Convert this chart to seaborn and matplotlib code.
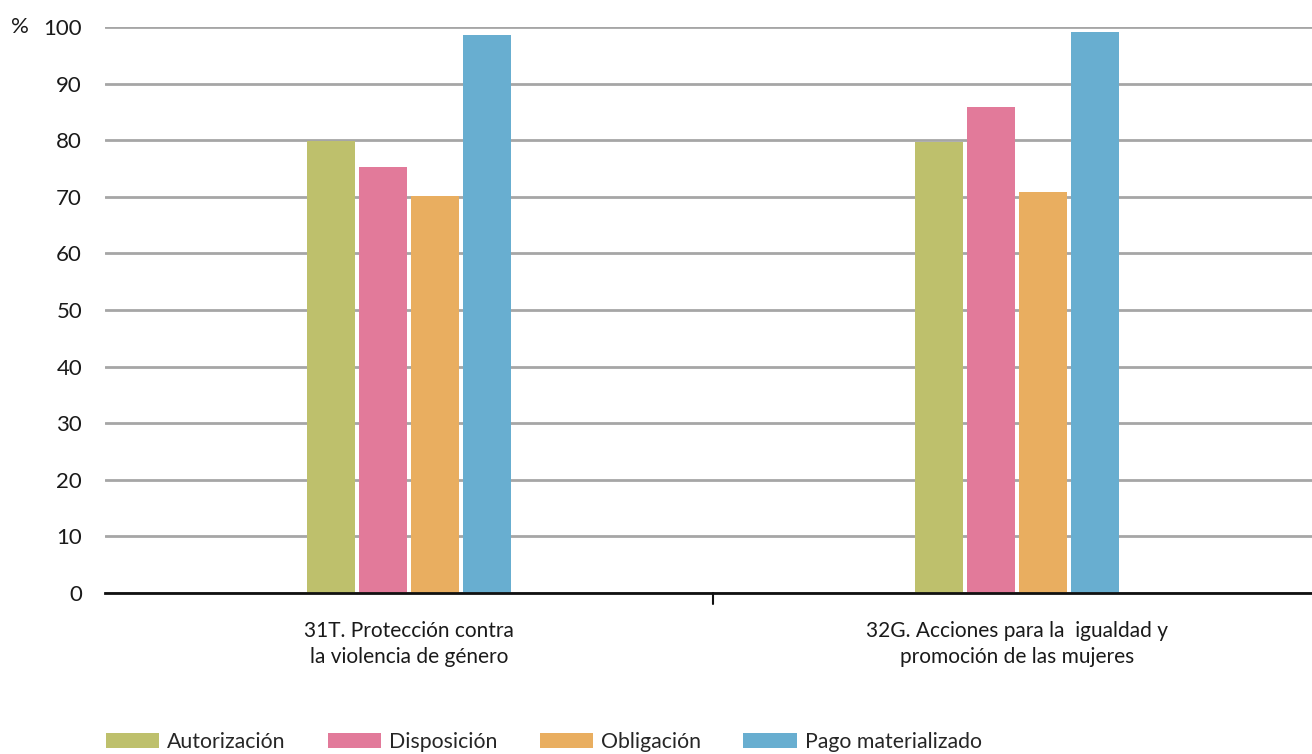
import matplotlib
matplotlib.use("Agg")
import matplotlib.pyplot as plt
import seaborn as sns
import pandas as pd

categories = ["31T. Protección contra\nla violencia de género",
              "32G. Acciones para la  igualdad y\npromoción de las mujeres"]
series = ["Autorización", "Disposición", "Obligación", "Pago materializado"]
autorizacion = [79.9, 79.7]
disposicion = [75.3, 85.9]
obligacion = [70.2, 70.8]
pago = [98.6, 99.1]
colors = ["#BEC06C", "#E27A9A", "#E9AE60", "#68AED0"]
yticks = [0, 10, 20, 30, 40, 50, 60, 70, 80, 90, 100]

sns.set_theme(style="white")
plt.rcParams["font.family"] = ["Lato", "DejaVu Sans"]

rows = []
for s, vals in zip(series, [autorizacion, disposicion, obligacion, pago]):
    for c, v in zip(categories, vals):
        rows.append({"cat": c, "serie": s, "val": v})
df = pd.DataFrame(rows)

fig = plt.figure(figsize=(13.12, 7.54), dpi=100)
ax = fig.add_axes([105/1312, 1-593/754, (1321-105)/1312, (593-27)/754])

sns.barplot(data=df, x="cat", y="val", hue="serie", order=categories,
            hue_order=series, palette=colors, width=0.342, gap=0.08,
            saturation=1, ax=ax, zorder=3, edgecolor="none", linewidth=0)

ax.set_xlim(-0.5, 1.5)
ax.set_ylim(0, 100)
ax.set_yticks(yticks)
ax.set_yticklabels([str(t) for t in yticks], fontsize=16, color="#1a1a1a")
ax.yaxis.grid(True, color="#a6a6a6", linewidth=2, zorder=0)
ax.set_axisbelow(True)
for sp in ["top", "right", "left"]:
    ax.spines[sp].set_visible(False)
ax.spines["bottom"].set_color("#111111")
ax.spines["bottom"].set_linewidth(2)
ax.spines["bottom"].set_zorder(4)
ax.tick_params(axis="y", length=0, pad=16.5)
ax.set_xticks([0, 1])
ax.set_xticklabels(categories, fontsize=15, color="#1a1a1a", linespacing=1.4)
ax.tick_params(axis="x", length=0, pad=20)
ax.axvline(0.5, ymin=-0.02, ymax=0, color="#111111", linewidth=1.5, clip_on=False)
ax.set_xlabel("")
ax.set_ylabel("")
fig.text(20/1312, 1-27/754, "%", fontsize=16, color="#1a1a1a", ha="center", va="center")

handles, labels = ax.get_legend_handles_labels()
ax.legend(handles, labels, loc="lower left", bbox_to_anchor=(97/1312, -6/754),
          bbox_transform=fig.transFigure, ncol=4, frameon=False, fontsize=15.3,
          handlelength=2.5, handleheight=0.7, handletextpad=0.38, columnspacing=2.0,
          borderaxespad=0)

fig.savefig("out.png", dpi=100)
